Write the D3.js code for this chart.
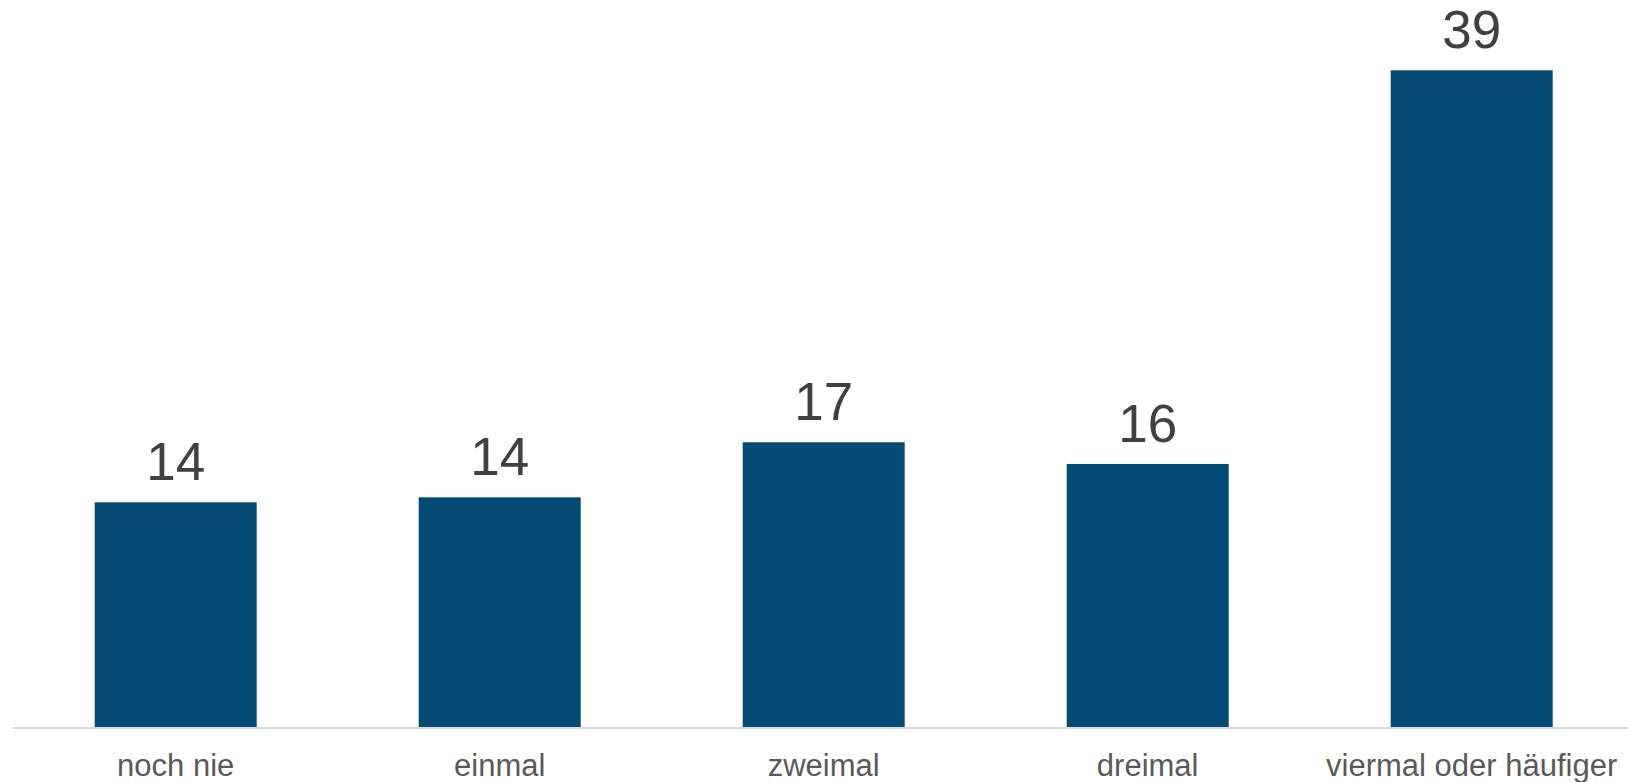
<!DOCTYPE html>
<html lang="de">
  <head>
    <meta charset="utf-8">
    <title>Häufigkeit</title>
    <script src="https://d3js.org/d3.v7.min.js"></script>
    <style>
      body { margin: 0; background: #fff; }
    </style>
  </head>
  <body>
    <svg id="chart"></svg>

    <script type="text/javascript">
    // data
    var categories = ["noch nie", "einmal", "zweimal", "dreimal", "viermal oder häufiger"];
    var values = [13.5, 13.8, 17.1, 15.8, 39.4];

    var width = 1628, height = 782;

    var svg = d3.select("#chart")
      .attr("width", width)
      .attr("height", height);

    // scales
    var x = d3.scaleBand()
      .domain(categories)
      .range([13.7, 1633.7])
      .paddingInner(0.5)
      .paddingOuter(0.25);

    var y = d3.scaleLinear()
      .domain([0, 40])
      .range([727.5, 60.3]);

    // bars
    svg.selectAll(".bar")
      .data(values)
      .enter()
      .append("rect")
      .attr("class", "bar")
      .attr("x", function(d, i){ return x(categories[i]); })
      .attr("y", function(d){ return y(d); })
      .attr("width", x.bandwidth())
      .attr("height", function(d){ return y(0) - y(d); })
      .attr("fill", "#034a75");

    // baseline
    svg.append("line")
      .attr("x1", 13)
      .attr("x2", width)
      .attr("y1", y(0) + 0.5)
      .attr("y2", y(0) + 0.5)
      .attr("stroke", "#d9d9d9")
      .attr("stroke-width", 2);

    // value labels (rounded)
    svg.selectAll(".val")
      .data(values)
      .enter()
      .append("text")
      .attr("class", "val")
      .attr("x", function(d, i){ return x(categories[i]) + x.bandwidth() / 2; })
      .attr("y", function(d){ return y(d) - 22; })
      .attr("text-anchor", "middle")
      .attr("font-family", "Liberation Sans, Arial, sans-serif")
      .attr("font-size", 53)
      .attr("fill", "#404040")
      .text(function(d){ return Math.round(d); });

    // category labels
    svg.selectAll(".cat")
      .data(categories)
      .enter()
      .append("text")
      .attr("class", "cat")
      .attr("x", function(d){ return x(d) + x.bandwidth() / 2; })
      .attr("y", 776)
      .attr("text-anchor", "middle")
      .attr("font-family", "Liberation Sans, Arial, sans-serif")
      .attr("font-size", 31)
      .attr("fill", "#595959")
      .text(function(d){ return d; });
    </script>
  </body>
</html>
